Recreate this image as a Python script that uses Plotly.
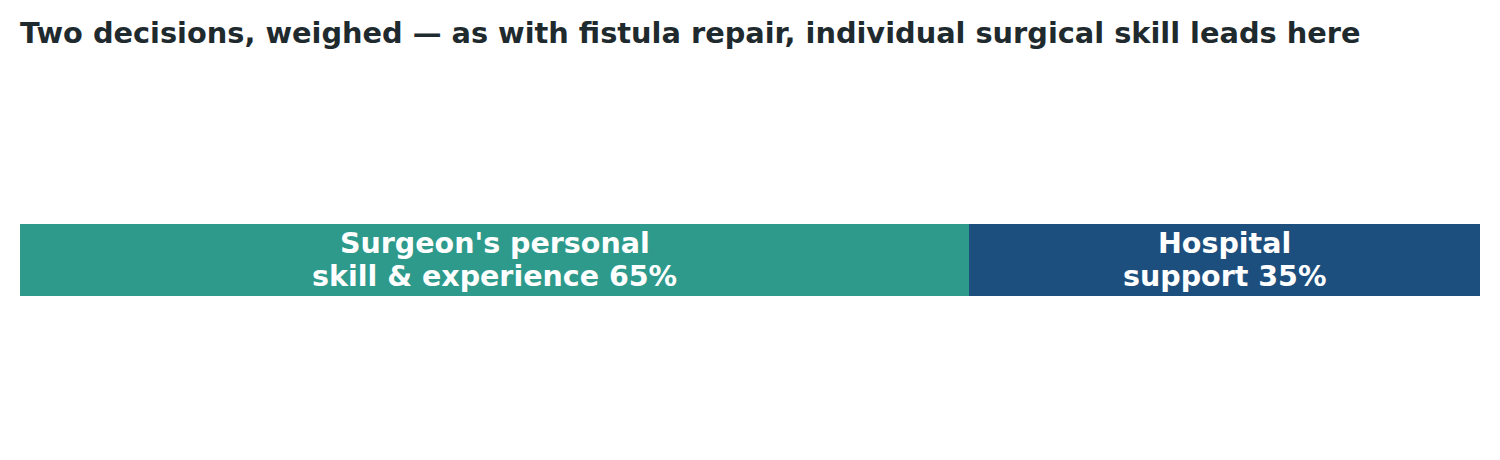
import plotly.graph_objects as go

title = "Two decisions, weighed — as with fistula repair, individual surgical skill leads here"
label_line1 = ["Surgeon's personal", "Hospital"]
label_line2 = ["skill & experience", "support"]
values = [65, 35]
colors = ["#2E9A8C", "#1D4F7E"]

fig = go.Figure()
start = 0
annotations = []
for l1, l2, val, col in zip(label_line1, label_line2, values, colors):
    fig.add_trace(go.Bar(
        x=[val], y=["w"], orientation="h",
        marker=dict(color=col, line=dict(width=0)),
        showlegend=False, hoverinfo="skip",
    ))
    center = start + val / 2
    font = dict(family="DejaVu Sans", size=28.5, color="white")
    annotations.append(dict(x=center, y="w", xref="x", yref="y", text=f"<b>{l1}</b>",
                            showarrow=False, yshift=17, font=font))
    annotations.append(dict(x=center, y="w", xref="x", yref="y", text=f"<b>{l2} {val}%</b>",
                            showarrow=False, yshift=-16, font=font))
    start += val

fig.update_layout(
    width=1500, height=460,
    barmode="stack", bargap=0,
    margin=dict(l=12, r=28, t=216, b=172),
    paper_bgcolor="white", plot_bgcolor="white",
    annotations=annotations,
    title=dict(text=f"<b>{title}</b>", x=12/1500, xanchor="left", xref="container",
               y=1 - 25/460, yanchor="middle", yref="container",
               font=dict(family="DejaVu Sans", size=28.8, color="#1F2A2E")),
    xaxis=dict(range=[0, 100], visible=False, fixedrange=True),
    yaxis=dict(visible=False, fixedrange=True),
)

fig.write_html("out.html")
